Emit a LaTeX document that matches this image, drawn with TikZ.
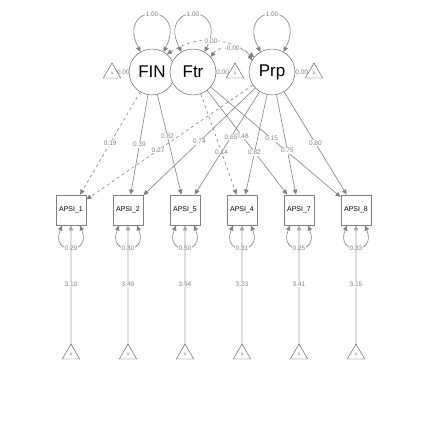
\documentclass[tikz,border=0pt]{standalone}
\usepackage{fontspec}
\setmainfont{Liberation Sans}
\usetikzlibrary{arrows.meta,shapes.geometric,backgrounds}
\definecolor{edgegray}{RGB}{128,128,128}
\definecolor{lightgray}{RGB}{165,165,165}

\begin{document}
\begin{tikzpicture}[x=1pt,y=1pt,
  latent/.style={circle,draw=black!70,fill=white,minimum size=46pt,inner sep=0pt,font=\fontsize{17}{17}\selectfont},
  manifest/.style={rectangle,draw=black!50,line width=0.9pt,fill=white,minimum size=30pt,inner sep=0pt,font=\fontsize{7}{7}\selectfont},
  meantri/.style={regular polygon,regular polygon sides=3,draw=black!70,fill=white,minimum size=20pt,inner sep=0pt,font=\fontsize{3.5}{3.5}\selectfont},
  arr/.style={draw=edgegray,line width=0.6pt,-{Triangle[length=5pt,width=4.5pt]}},
  twoway/.style={arr,{Triangle[length=5pt,width=4.5pt]}-{Triangle[length=5pt,width=4.5pt]}},
  lab/.style={fill=white,inner sep=0.6pt,text=edgegray,font=\fontsize{6.5}{6.5}\selectfont}]
\useasboundingbox (0,0) rectangle (427,424);
\node[latent] (FIN) at (152,352) {FIN};
\node[latent] (Ftr) at (193,352) {Ftr};
\node[latent] (Prp) at (272,352) {Prp};
\node[meantri] (mFIN) at (112,351) {1};
\node[meantri] (mFtr) at (235,351) {1};
\node[meantri] (mPrp) at (314,351) {1};
\foreach \n/\x in {1/71,2/128,5/185,4/242,7/299,8/356}{
  \node[manifest] (a\n) at (\x,214) {APSI\_\n};
  \node[meantri] (t\n) at (\x,70) {1};
}
\begin{pgfonlayer}{background}
\draw[arr] (mFIN) -- (FIN) node[lab,midway] {0.00};
\draw[arr] (mFtr) -- (Ftr) node[lab,midway] {0.00};
\draw[arr] (mPrp) -- (Prp) node[lab,midway] {0.00};
\draw[twoway] (FIN.120) .. controls +(-25,50) and +(25,50) .. (FIN.60) node[lab,midway] {1.00};
\draw[twoway] (Ftr.120) .. controls +(-25,50) and +(25,50) .. (Ftr.60) node[lab,midway] {1.00};
\draw[twoway] (Prp.120) .. controls +(-25,50) and +(25,50) .. (Prp.60) node[lab,midway] {1.00};
\draw[twoway,dashed] (FIN.50) to[bend left=35] node[lab] {0.00} (Prp.140);
\draw[twoway,dashed] (Ftr.40) to[bend left=60] node[lab] {-0.00} (Prp.150);
\draw[arr,dashed] (FIN) -- (a1) node[lab,pos=0.5] {0.19};
\draw[arr] (FIN) -- (a2) node[lab,pos=0.5] {0.39};
\draw[arr,dashed] (Prp) -- (a1) node[lab,pos=0.57] {0.27};
\draw[arr] (FIN) -- (a5) node[lab,pos=0.42] {0.82};
\draw[arr,dashed] (Ftr) -- (a4) node[lab,pos=0.58] {0.14};
\draw[arr] (Ftr) -- (a7) node[lab,pos=0.44] {0.48};
\draw[arr] (Ftr) -- (a8) node[lab,pos=0.47] {0.15};
\draw[arr] (Prp) -- (a2) node[lab,pos=0.5] {0.74};
\draw[arr] (Prp) -- (a5) node[lab,pos=0.44] {0.65};
\draw[arr] (Prp) -- (a4) node[lab,pos=0.58] {0.82};
\draw[arr] (Prp) -- (a7) node[lab,pos=0.56] {0.75};
\draw[arr] (Prp) -- (a8) node[lab,pos=0.5] {0.80};
\foreach \n/\v/\m in {1/0.29/3.10,2/0.30/3.49,5/0.50/3.94,4/0.31/3.23,7/0.25/3.41,8/0.33/3.15}{
  \draw[twoway] ([xshift=-9pt]a\n.south) .. controls +(-12,-30) and +(12,-30) .. ([xshift=9pt]a\n.south) node[lab,midway] {\v};
  \draw[arr,draw=lightgray] (t\n) -- (a\n) node[lab,midway] {\m};
}
\end{pgfonlayer}
\end{tikzpicture}
\end{document}
